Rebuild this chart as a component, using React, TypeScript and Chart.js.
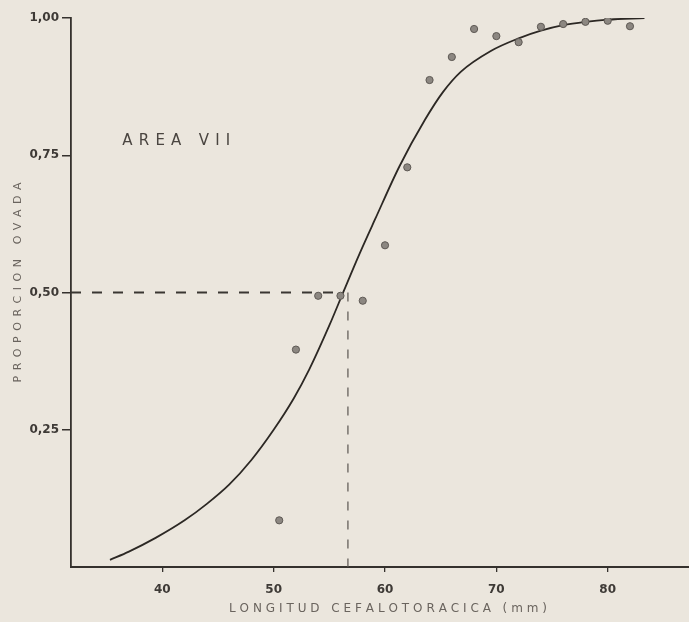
import React, { useEffect, useRef } from "react";
import { Chart, registerables } from "chart.js";

Chart.register(...registerables);

// Observed proportions (points)
const pointX = [50.5, 52, 54, 56, 58, 60, 62, 64, 66, 68, 70, 72, 74, 76, 78, 80, 82];
const pointY = [0.085, 0.396, 0.494, 0.494, 0.485, 0.586, 0.728, 0.887, 0.929, 0.98, 0.967, 0.956, 0.984, 0.989, 0.993, 0.995, 0.985];

// Fitted curve
const curveX = [35.3, 37, 39.4, 42, 44, 46, 48, 50, 51.8, 53.2, 55, 56.3, 57.7, 59.1, 61.3, 63.6, 65.2, 66.8, 69.5, 72, 74, 76, 78, 80, 83.3];
const curveY = [0.013, 0.028, 0.053, 0.085, 0.115, 0.15, 0.195, 0.25, 0.307, 0.36, 0.44, 0.503, 0.57, 0.633, 0.73, 0.815, 0.865, 0.902, 0.94, 0.963, 0.977, 0.987, 0.993, 0.997, 1.0];

// 50% reference lines
const halfX = [31.8, 56.0];
const halfY = [0.5, 0.5];
const medianX = [56.67, 56.67];
const medianY = [0.5, 0];

// Axes
const xTickValues = [40, 50, 60, 70, 80];
const xTickLabels = ["40", "50", "60", "70", "80"];
const yTickValues = [0.25, 0.5, 0.75, 1.0];
const yTickLabels = ["0,25", "0,50", "0,75", "1,00"];
const xMin = 31.8;
const xMax = 87.3;
const yMin = 0;
const yMax = 1;

const xTitle = "LONGITUD CEFALOTORACICA (mm)";
const yTitle = "PROPORCION OVADA";
const areaLabel = "AREA VII";
const areaX = 36.4;
const areaY = 0.776;

const PAPER = "#ebe6dd";
const INK = "#35312d";

function drawSpaced(ctx: CanvasRenderingContext2D, text: string, left: number, cy: number, target: number) {
  const chars = Array.from(text);
  const widths = chars.map((c) => ctx.measureText(c).width);
  const natural = widths.reduce((a, b) => a + b, 0);
  const gap = chars.length > 1 ? (target - natural) / (chars.length - 1) : 0;
  let x = left;
  chars.forEach((c, i) => {
    ctx.fillText(c, x, cy);
    x += widths[i] + gap;
  });
}

const paperPlugin = {
  id: "paper",
  beforeDraw(chart: any) {
    const ctx = chart.ctx;
    ctx.save();
    ctx.fillStyle = PAPER;
    ctx.fillRect(0, 0, chart.width, chart.height);
    ctx.restore();
  },
};

const textPlugin = {
  id: "texts",
  afterDraw(chart: any) {
    const ctx: CanvasRenderingContext2D = chart.ctx;
    const xs = chart.scales.x;
    const ys = chart.scales.y;
    const area = chart.chartArea;
    ctx.save();
    ctx.textBaseline = "middle";
    ctx.textAlign = "left";

    // AREA VII
    ctx.fillStyle = "#4a4540";
    ctx.font = "15px 'DejaVu Sans'";
    drawSpaced(ctx, areaLabel, xs.getPixelForValue(areaX), ys.getPixelForValue(areaY), 108);

    // x title
    ctx.fillStyle = "#6a645e";
    ctx.font = "12px 'DejaVu Sans'";
    const xw = 318;
    const xc = (area.left + area.right) / 2 + 8;
    drawSpaced(ctx, xTitle, xc - xw / 2, 609, xw);

    // y title
    ctx.font = "11px 'DejaVu Sans'";
    ctx.translate(18, (area.top + area.bottom) / 2 - 10);
    ctx.rotate(-Math.PI / 2);
    const yw = 200;
    drawSpaced(ctx, yTitle, -yw / 2, 0, yw);
    ctx.restore();
  },
};

export default function App() {
  const ref = useRef<HTMLCanvasElement | null>(null);

  useEffect(() => {
    document.body.style.margin = "0";
    document.body.style.background = PAPER;
    const canvas = ref.current;
    if (!canvas) return;
    const chart = new Chart(canvas, {
      type: "scatter",
      data: {
        datasets: [
          {
            label: "observado",
            data: pointX.map((x, i) => ({ x, y: pointY[i] })),
            showLine: false,
            pointRadius: 3.6,
            pointBackgroundColor: "#8c8781",
            pointBorderColor: "#5e5954",
            pointBorderWidth: 1,
            order: 0,
          },
          {
            label: "ajuste",
            data: curveX.map((x, i) => ({ x, y: curveY[i] })),
            showLine: true,
            pointRadius: 0,
            borderColor: "#2c2824",
            borderWidth: 1.8,
            cubicInterpolationMode: "monotone",
            order: 1,
          },
          {
            label: "50%",
            data: halfX.map((x, i) => ({ x, y: halfY[i] })),
            showLine: true,
            pointRadius: 0,
            borderColor: "#3a3632",
            borderWidth: 2,
            borderDash: [10, 11],
            order: 2,
          },
          {
            label: "L50",
            data: medianX.map((x, i) => ({ x, y: medianY[i] })),
            showLine: true,
            pointRadius: 0,
            borderColor: "#5a5550",
            borderWidth: 1.2,
            borderDash: [9, 10],
            order: 3,
          },
        ],
      },
      options: {
        animation: false,
        responsive: false,
        devicePixelRatio: 1,
        layout: { autoPadding: false, padding: { top: 18, right: 0, left: 0, bottom: 0 } },
        plugins: { legend: { display: false }, tooltip: { enabled: false }, title: { display: false } },
        scales: {
          x: {
            type: "linear",
            min: xMin,
            max: xMax,
            afterBuildTicks: (s: any) => {
              s.ticks = xTickValues.map((v) => ({ value: v }));
            },
            afterFit: (s: any) => {
              s.height = 55;
            },
            ticks: {
              callback: (v: any) => {
                const i = xTickValues.indexOf(Number(v));
                return i >= 0 ? xTickLabels[i] : "";
              },
              color: "#3e3a36",
              font: { family: "'DejaVu Sans'", size: 12, weight: "bold" },
              padding: 11,
              maxRotation: 0,
              autoSkip: false,
            },
            grid: { display: true, drawOnChartArea: false, drawTicks: true, tickLength: 5, color: INK, lineWidth: 1.3 },
            border: { display: true, color: INK, width: 2 },
            title: { display: false },
          },
          y: {
            type: "linear",
            min: yMin,
            max: yMax,
            afterBuildTicks: (s: any) => {
              s.ticks = yTickValues.map((v) => ({ value: v }));
            },
            afterFit: (s: any) => {
              s.width = 71;
            },
            ticks: {
              callback: (v: any) => {
                const i = yTickValues.indexOf(Number(v));
                return i >= 0 ? yTickLabels[i] : "";
              },
              color: "#3e3a36",
              font: { family: "'DejaVu Sans'", size: 12, weight: "bold" },
              padding: 3,
              autoSkip: false,
            },
            grid: { display: true, drawOnChartArea: false, drawTicks: true, tickLength: 9, color: INK, lineWidth: 1.5 },
            border: { display: true, color: INK, width: 1.8 },
            title: { display: false },
          },
        },
      },
      plugins: [paperPlugin, textPlugin],
    });
    return () => chart.destroy();
  }, []);

  return (
    <div style={{ position: "absolute", left: 0, top: 0, width: 689, height: 622, background: PAPER }}>
      <canvas ref={ref} width={689} height={622} style={{ display: "block", width: 689, height: 622 }} />
    </div>
  );
}
